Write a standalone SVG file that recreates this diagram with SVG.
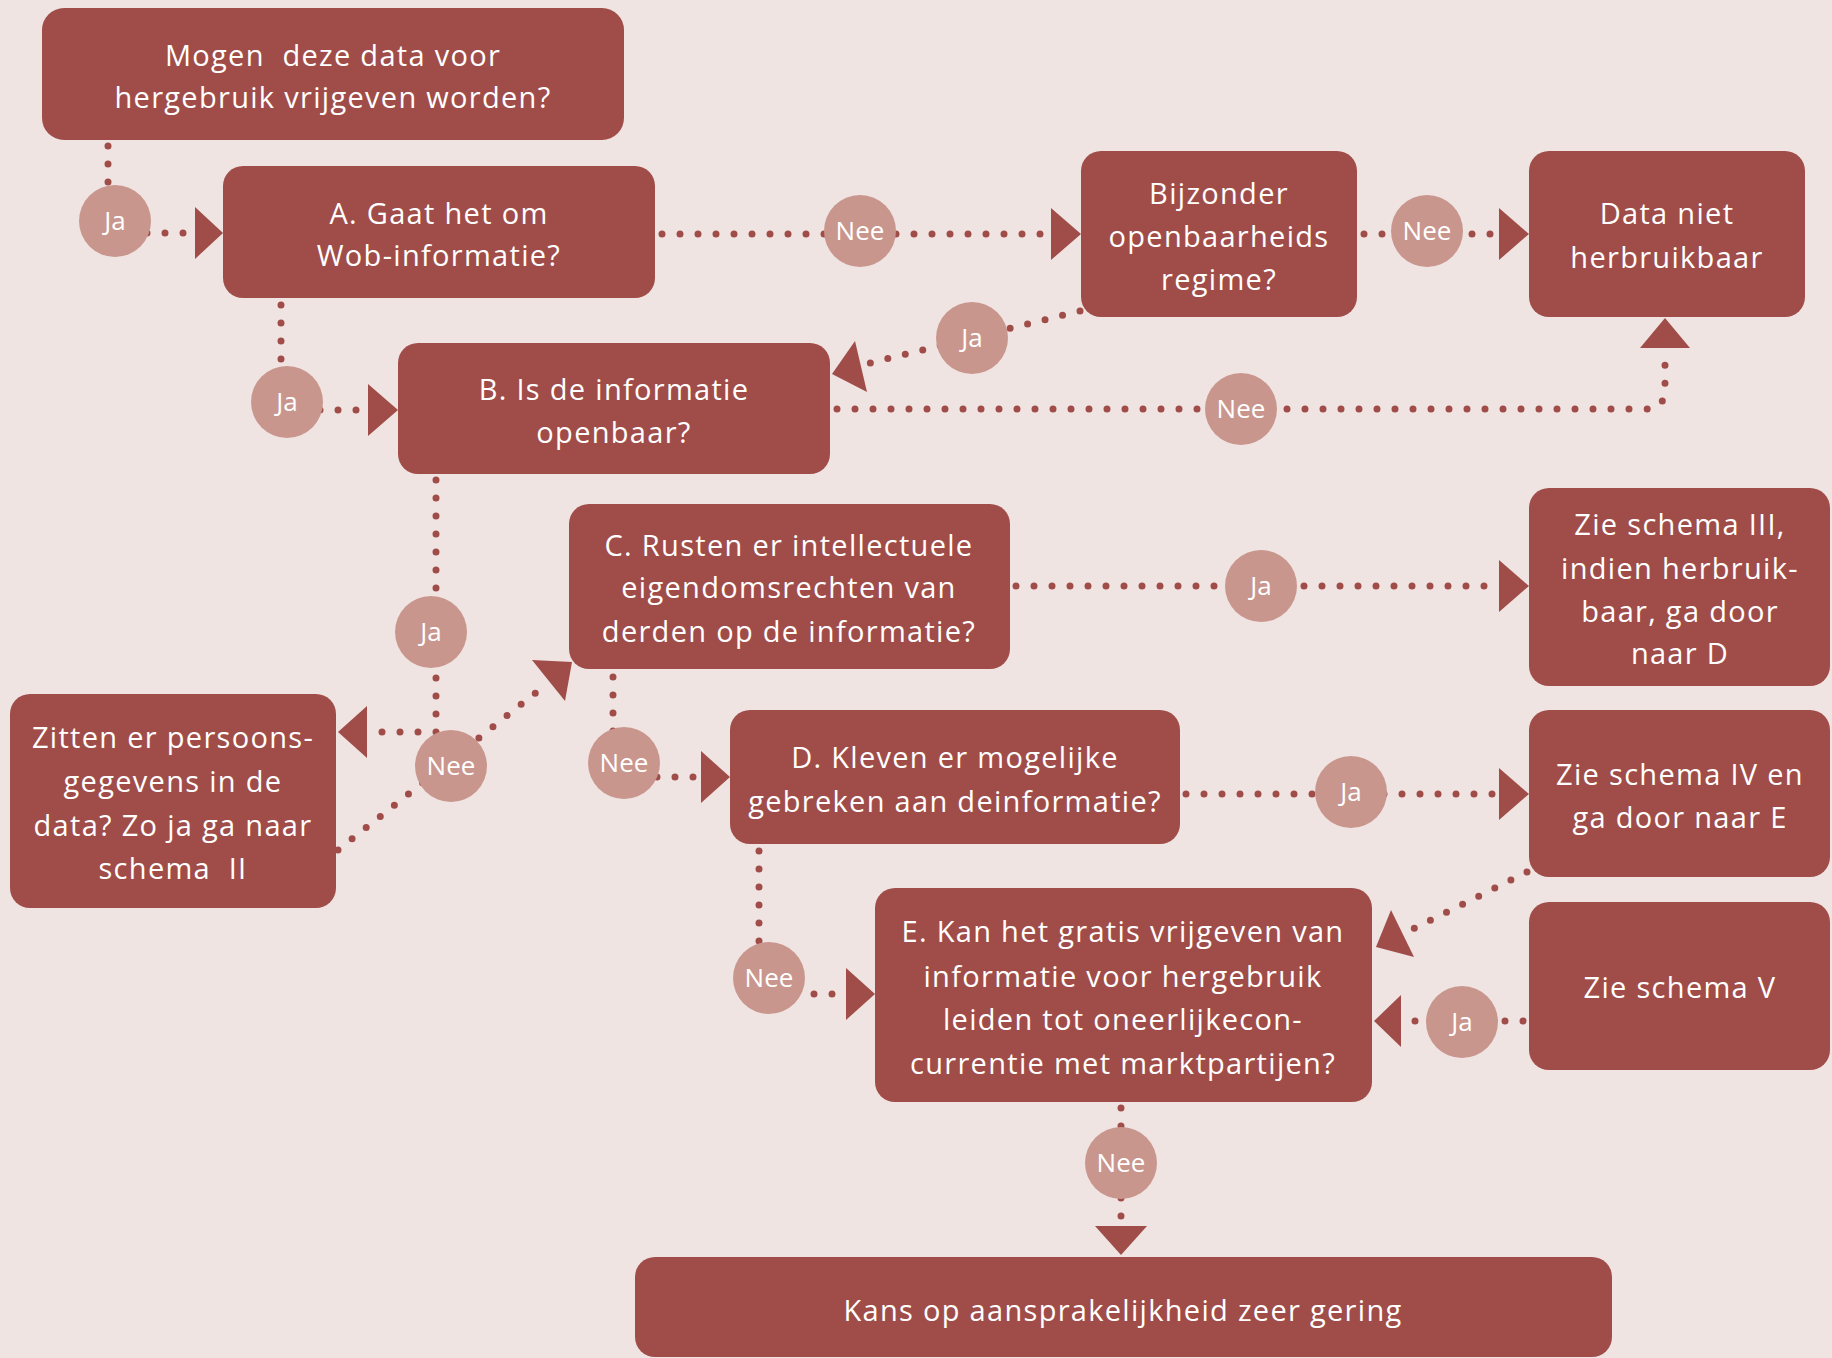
<svg xmlns="http://www.w3.org/2000/svg" width="1832" height="1358" viewBox="0 0 1832 1358">
<style>
.box{fill:#a04d49}
.t{font-family:"Open Sans","Liberation Sans",sans-serif;font-size:29px;letter-spacing:1.3px;fill:#ffffff;text-anchor:middle;white-space:pre}
.lbl{fill:#c9968d}
.lt{font-family:"Open Sans","Liberation Sans",sans-serif;font-size:26px;fill:#ffffff;text-anchor:middle}
.dot{fill:none;stroke:#a04d49;stroke-width:7;stroke-linecap:round;stroke-dasharray:0 18}
.ah{fill:#a04d49}
</style>
<rect x="0" y="0" width="1832" height="1358" fill="#efe4e2"/>
<g id="connectors">
<path class="dot" d="M108,146 V233 H190"/>
<polygon class="ah" points="195,207 223,233 195,259"/>
<path class="dot" d="M281,305 V410 H362"/>
<polygon class="ah" points="368,384 398,410 368,436"/>
<path class="dot" d="M662,234 H1046"/>
<polygon class="ah" points="1051,208 1081,234 1051,260"/>
<path class="dot" d="M1364,234 H1494"/>
<polygon class="ah" points="1499,208 1529,234 1499,260"/>
<path class="dot" d="M1080,311 L866,364"/>
<polygon class="ah" points="832,374 867,392 855,341"/>
<path class="dot" d="M837,409 H1645 Q1665,409 1665,389 V352"/>
<polygon class="ah" points="1640,348 1690,348 1665,318"/>
<path class="dot" d="M436,480 V732 H372"/>
<polygon class="ah" points="367,706 338,732 367,758"/>
<path class="dot" d="M338,850 L548,683"/>
<polygon class="ah" points="572,662 565,701 532,660"/>
<path class="dot" d="M1016,586 H1494"/>
<polygon class="ah" points="1499,560 1529,586 1499,612"/>
<path class="dot" d="M613,677 V777 H696"/>
<polygon class="ah" points="701,751 730,777 701,803"/>
<path class="dot" d="M1186,794 H1494"/>
<polygon class="ah" points="1499,768 1529,794 1499,820"/>
<path class="dot" d="M759,851 V994 H841"/>
<polygon class="ah" points="846,968 875,994 846,1020"/>
<path class="dot" d="M1527,872 L1405,933"/>
<polygon class="ah" points="1376,947 1414,957 1391,910"/>
<path class="dot" d="M1523,1021 H1405"/>
<polygon class="ah" points="1401,995 1374,1021 1401,1047"/>
<path class="dot" d="M1121,1108 V1222"/>
<polygon class="ah" points="1095,1226 1147,1226 1121,1255"/>
</g>
<g id="labels">
<circle class="lbl" cx="115" cy="221" r="36"/><text class="lt" x="115" y="230">Ja</text>
<circle class="lbl" cx="287" cy="402" r="36"/><text class="lt" x="287" y="411">Ja</text>
<circle class="lbl" cx="860" cy="231" r="36"/><text class="lt" x="860" y="240">Nee</text>
<circle class="lbl" cx="1427" cy="231" r="36"/><text class="lt" x="1427" y="240">Nee</text>
<circle class="lbl" cx="972" cy="338" r="36"/><text class="lt" x="972" y="347">Ja</text>
<circle class="lbl" cx="1241" cy="409" r="36"/><text class="lt" x="1241" y="418">Nee</text>
<circle class="lbl" cx="431" cy="632" r="36"/><text class="lt" x="431" y="641">Ja</text>
<circle class="lbl" cx="451" cy="766" r="36"/><text class="lt" x="451" y="775">Nee</text>
<circle class="lbl" cx="624" cy="763" r="36"/><text class="lt" x="624" y="772">Nee</text>
<circle class="lbl" cx="1261" cy="586" r="36"/><text class="lt" x="1261" y="595">Ja</text>
<circle class="lbl" cx="1351" cy="792" r="36"/><text class="lt" x="1351" y="801">Ja</text>
<circle class="lbl" cx="769" cy="978" r="36"/><text class="lt" x="769" y="987">Nee</text>
<circle class="lbl" cx="1462" cy="1022" r="36"/><text class="lt" x="1462" y="1031">Ja</text>
<circle class="lbl" cx="1121" cy="1163" r="36"/><text class="lt" x="1121" y="1172">Nee</text>
</g>
<g id="start">
<rect class="box" x="42" y="8" width="582" height="132" rx="22"/>
<text class="t" x="333" y="66">Mogen  deze data voor</text>
<text class="t" x="333" y="108">hergebruik vrijgeven worden?</text>
</g>
<g id="nodeA">
<rect class="box" x="223" y="166" width="432" height="132" rx="20"/>
<text class="t" x="439" y="224">A. Gaat het om</text>
<text class="t" x="439" y="266">Wob-informatie?</text>
</g>
<g id="bijzonder">
<rect class="box" x="1081" y="151" width="276" height="166" rx="20"/>
<text class="t" x="1219" y="204">Bijzonder</text>
<text class="t" x="1219" y="247">openbaarheids</text>
<text class="t" x="1219" y="290">regime?</text>
</g>
<g id="datanietherbruikbaar">
<rect class="box" x="1529" y="151" width="276" height="166" rx="20"/>
<text class="t" x="1667" y="224">Data niet</text>
<text class="t" x="1667" y="268">herbruikbaar</text>
</g>
<g id="nodeB">
<rect class="box" x="398" y="343" width="432" height="131" rx="20"/>
<text class="t" x="614" y="400">B. Is de informatie</text>
<text class="t" x="614" y="443">openbaar?</text>
</g>
<g id="nodeC">
<rect class="box" x="569" y="504" width="441" height="165" rx="20"/>
<text class="t" x="789" y="556">C. Rusten er intellectuele</text>
<text class="t" x="789" y="598">eigendomsrechten van</text>
<text class="t" x="789" y="642">derden op de informatie?</text>
</g>
<g id="schema3">
<rect class="box" x="1529" y="488" width="301" height="198" rx="20"/>
<text class="t" x="1680" y="535">Zie schema III,</text>
<text class="t" x="1680" y="579">indien herbruik-</text>
<text class="t" x="1680" y="622">baar, ga door</text>
<text class="t" x="1680" y="664">naar D</text>
</g>
<g id="persoonsgegevens">
<rect class="box" x="10" y="694" width="326" height="214" rx="20"/>
<text class="t" x="173" y="748">Zitten er persoons-</text>
<text class="t" x="173" y="792">gegevens in de</text>
<text class="t" x="173" y="836">data? Zo ja ga naar</text>
<text class="t" x="173" y="879">schema  II</text>
</g>
<g id="nodeD">
<rect class="box" x="730" y="710" width="450" height="134" rx="20"/>
<text class="t" x="955" y="768">D. Kleven er mogelijke</text>
<text class="t" x="955" y="812">gebreken aan deinformatie?</text>
</g>
<g id="schema4">
<rect class="box" x="1529" y="710" width="301" height="167" rx="20"/>
<text class="t" x="1680" y="785">Zie schema IV en</text>
<text class="t" x="1680" y="828">ga door naar E</text>
</g>
<g id="nodeE">
<rect class="box" x="875" y="888" width="497" height="214" rx="20"/>
<text class="t" x="1123" y="942">E. Kan het gratis vrijgeven van</text>
<text class="t" x="1123" y="987">informatie voor hergebruik</text>
<text class="t" x="1123" y="1030">leiden tot oneerlijkecon-</text>
<text class="t" x="1123" y="1074">currentie met marktpartijen?</text>
</g>
<g id="schema5">
<rect class="box" x="1529" y="902" width="301" height="168" rx="20"/>
<text class="t" x="1680" y="998">Zie schema V</text>
</g>
<g id="conclusie">
<rect class="box" x="635" y="1257" width="977" height="100" rx="20"/>
<text class="t" x="1123" y="1321">Kans op aansprakelijkheid zeer gering</text>
</g>
</svg>
